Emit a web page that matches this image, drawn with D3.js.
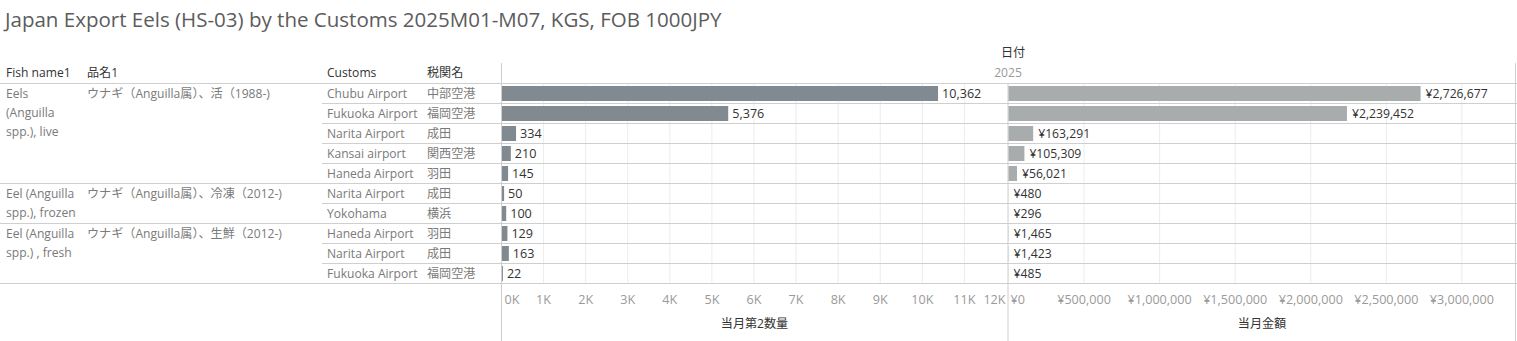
<!DOCTYPE html>
<html>
<head>
<meta charset="utf-8">
<script src="https://cdn.jsdelivr.net/npm/d3@7"></script>
<style>
  html, body { margin: 0; padding: 0; background: #fff; }
  svg text { font-family: "Open Sans", "Noto Sans CJK JP", sans-serif; }
</style>
</head>
<body>
<svg id="chart" width="1517" height="341"></svg>
<script>
// Export groups (Fish name1 / 品名1)
const groupFish = [
  ["Eels", "(Anguilla", "spp.), live"],
  ["Eel (Anguilla", "spp.), frozen"],
  ["Eel (Anguilla", "spp.) , fresh"]
];
const groupItem = [
  "ウナギ（Anguilla属）、活（1988-)",
  "ウナギ（Anguilla属）、冷凍（2012-)",
  "ウナギ（Anguilla属）、生鮮（2012-)"
];
// Rows: customs office per group
const rowGroup = [0, 0, 0, 0, 0, 1, 1, 2, 2, 2];
const customsEn = ["Chubu Airport", "Fukuoka Airport", "Narita Airport", "Kansai airport", "Haneda Airport",
                   "Narita Airport", "Yokohama", "Haneda Airport", "Narita Airport", "Fukuoka Airport"];
const customsJa = ["中部空港", "福岡空港", "成田", "関西空港", "羽田", "成田", "横浜", "羽田", "成田", "福岡空港"];
// Measures
const quantityKg = [10362, 5376, 334, 210, 145, 50, 100, 129, 163, 22];
const valueJpy = [2726677, 2239452, 163291, 105309, 56021, 480, 296, 1465, 1423, 485];
// Axis ticks
const qtyTicks = [0, 1000, 2000, 3000, 4000, 5000, 6000, 7000, 8000, 9000, 10000, 11000, 12000];
const valTicks = [0, 500000, 1000000, 1500000, 2000000, 2500000, 3000000];

const svg = d3.select("#chart");
const ROW_TOP = 83.5, ROW_H = 20, N = customsEn.length;
const ROW_BOTTOM = ROW_TOP + N * ROW_H;
const P1 = [501.5, 1007.5], P2 = [1008.5, 1515.5];

const y = d3.scaleBand().domain(d3.range(N)).range([ROW_TOP, ROW_BOTTOM]).paddingInner(0).paddingOuter(0);
const xQ = d3.scaleLinear().domain([0, 12000]).range([P1[0], P1[0] + 12000 * 0.04208]);
const xV = d3.scaleLinear().domain([0, 3000000]).range([P2[0], P2[0] + 453.4]);

const gridCol = "#ececec", lineCol = "#cfcfcf", headCol = "#333", cellCol = "#7a7a7a", valCol = "#333";
const FS = 12.1;

// Title, sized to span the header width
const title = svg.append("text").attr("x", 5).attr("y", 27).attr("font-size", 19).attr("fill", "#5c5c5c")
  .text("Japan Export Eels (HS-03) by the Customs 2025M01-M07, KGS, FOB 1000JPY");
title.attr("font-size", 19 * 717 / title.node().getComputedTextLength());

// Column headers
const headers = [["Fish name1", 6], ["品名1", 87], ["Customs", 327], ["税関名", 427]];
svg.selectAll("text.hdr").data(headers).join("text").attr("class", "hdr")
  .attr("x", d => d[1]).attr("y", 77).attr("font-size", FS).attr("fill", headCol).text(d => d[0]);
svg.append("text").attr("x", 1013).attr("y", 57).attr("text-anchor", "middle")
  .attr("font-size", FS).attr("fill", headCol).text("日付");
svg.append("text").attr("x", 1008).attr("y", 77).attr("text-anchor", "middle")
  .attr("font-size", FS).attr("fill", "#999").text("2025");

// Vertical gridlines in both panels
svg.selectAll("line.gq").data(qtyTicks.slice(1, -1)).join("line").attr("class", "gq")
  .attr("x1", d => xQ(d)).attr("x2", d => xQ(d)).attr("y1", ROW_TOP).attr("y2", ROW_BOTTOM)
  .attr("stroke", gridCol);
svg.selectAll("line.gv").data(valTicks.slice(1)).join("line").attr("class", "gv")
  .attr("x1", d => xV(d)).attr("x2", d => xV(d)).attr("y1", ROW_TOP).attr("y2", ROW_BOTTOM)
  .attr("stroke", gridCol);

// Row separators: full width at group boundaries, from the customs column otherwise
const seps = d3.range(N + 1).map(i => {
  const full = i === 0 || i === N || rowGroup[i] !== rowGroup[i - 1];
  return { y: ROW_TOP + i * ROW_H, x1: full ? 0 : 322 };
});
svg.selectAll("line.sep").data(seps).join("line").attr("class", "sep")
  .attr("x1", d => d.x1).attr("x2", 1517).attr("y1", d => d.y).attr("y2", d => d.y)
  .attr("stroke", lineCol);

// Panel dividers
[[P1[0], 63], [P2[0] - 0.5, ROW_TOP], [P2[1], 63]].forEach(([x, y1]) => {
  svg.append("line").attr("x1", x).attr("x2", x).attr("y1", y1).attr("y2", 341).attr("stroke", lineCol);
});

// Group labels
groupFish.forEach((lines, g) => {
  const first = rowGroup.indexOf(g);
  const t = svg.append("text").attr("x", 6).attr("y", y(first) + 14).attr("font-size", FS).attr("fill", cellCol);
  lines.forEach((l, k) => t.append("tspan").attr("x", 6).attr("dy", k ? 19 : 0).text(l));
  svg.append("text").attr("x", 87).attr("y", y(first) + 14).attr("font-size", FS).attr("fill", cellCol)
    .text(groupItem[g]);
});

// Customs labels
svg.selectAll("text.cen").data(customsEn).join("text").attr("class", "cen")
  .attr("x", 327).attr("y", (d, i) => y(i) + 14).attr("font-size", FS).attr("fill", cellCol).text(d => d);
svg.selectAll("text.cja").data(customsJa).join("text").attr("class", "cja")
  .attr("x", 427).attr("y", (d, i) => y(i) + 14).attr("font-size", FS).attr("fill", cellCol).text(d => d);

// Quantity bars
const barH = 15, barOff = (ROW_H - barH) / 2;
svg.selectAll("rect.bq").data(quantityKg).join("rect").attr("class", "bq")
  .attr("x", xQ(0) + 0.5).attr("y", (d, i) => y(i) + barOff)
  .attr("width", d => xQ(d) - xQ(0)).attr("height", barH).attr("fill", "#828a91");
svg.selectAll("text.lq").data(quantityKg).join("text").attr("class", "lq")
  .attr("x", d => xQ(d) + 4.5).attr("y", (d, i) => y(i) + 14.5).attr("font-size", 12.6).attr("fill", valCol)
  .text(d => d3.format(",")(d));

// Value bars
svg.selectAll("rect.bv").data(valueJpy).join("rect").attr("class", "bv")
  .attr("x", xV(0)).attr("y", (d, i) => y(i) + barOff)
  .attr("width", d => xV(d) - xV(0)).attr("height", barH).attr("fill", "#a8acac");
svg.selectAll("text.lv").data(valueJpy).join("text").attr("class", "lv")
  .attr("x", d => xV(d) + 5).attr("y", (d, i) => y(i) + 14.5).attr("font-size", 12.2).attr("fill", valCol)
  .text(d => "¥" + d3.format(",")(d));

// Axis tick labels, kept inside their panel
function tickLabels(cls, ticks, scale, fmt, lo, hi) {
  const g = svg.append("g");
  ticks.forEach(t => {
    const txt = g.append("text").attr("class", cls).attr("y", 304).attr("font-size", 12.6).attr("fill", "#9a9a9a").text(fmt(t));
    const w = txt.node().getComputedTextLength();
    let x = scale(t) - w / 2;
    x = Math.max(lo, Math.min(hi - w, x));
    txt.attr("x", x);
  });
}
tickLabels("tq", qtyTicks, xQ, d => (d / 1000) + "K", P1[0] + 3, P1[1] - 2);
tickLabels("tv", valTicks, xV, d => "¥" + d3.format(",")(d), P2[0] + 2, P2[1] - 2);

// Axis titles
svg.append("text").attr("x", (P1[0] + P1[1]) / 2).attr("y", 328).attr("text-anchor", "middle")
  .attr("font-size", FS).attr("fill", headCol).text("当月第2数量");
svg.append("text").attr("x", (P2[0] + P2[1]) / 2).attr("y", 328).attr("text-anchor", "middle")
  .attr("font-size", FS).attr("fill", headCol).text("当月金額");
</script>
</body>
</html>
